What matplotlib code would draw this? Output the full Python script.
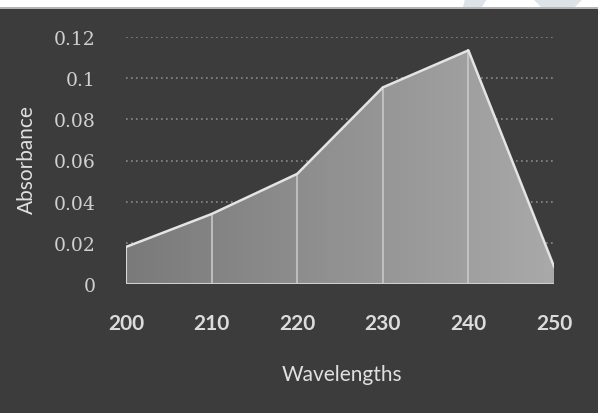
import matplotlib
matplotlib.use("Agg")
import matplotlib.pyplot as plt
import numpy as np
from matplotlib.patches import Rectangle, Polygon
from matplotlib.colors import LinearSegmentedColormap

wavelengths = [200, 210, 220, 230, 240, 250]
absorbance = [0.018, 0.034, 0.0535, 0.0955, 0.1135, 0.0085]
y_ticks = [0, 0.02, 0.04, 0.06, 0.08, 0.1, 0.12]
y_tick_labels = ["0", "0.02", "0.04", "0.06", "0.08", "0.1", "0.12"]

W, H = 598, 414
fig = plt.figure(figsize=(W/100, H/100), dpi=100)
fig.patch.set_facecolor("#3c3c3c")

# top white strip with watermark pieces
fig.patches.append(Rectangle((0, 1-8/H), 1, 8/H, transform=fig.transFigure,
                             facecolor="white", edgecolor="none", zorder=0))
fig.patches.append(Polygon([(465/W, 1), (487/W, 1), (482/W, 1-8/H), (463/W, 1-8/H)],
                           closed=True, transform=fig.transFigure,
                           facecolor="#dde3e8", edgecolor="none", zorder=1))
fig.patches.append(Polygon([(533/W, 1), (583/W, 1), (575/W, 1-8/H), (541/W, 1-8/H)],
                           closed=True, transform=fig.transFigure,
                           facecolor="#dde3e8", edgecolor="none", zorder=1))
fig.patches.append(Rectangle((0, 1-10/H), 1, 2/H, transform=fig.transFigure,
                             facecolor="#b4b4b4", edgecolor="none", zorder=2))

left, right = 126/W, 554/W
bottom, top = 1-285/H, 1-38/H
ax = fig.add_axes([left, bottom, right-left, top-bottom])
ax.set_facecolor("none")
ax.set_xlim(200, 250)
ax.set_ylim(0, 0.12)

x = np.array(wavelengths, dtype=float)
y = np.array(absorbance)

# gridlines
for t in y_ticks[1:]:
    ax.axhline(t, color="#8a8a8a", lw=1.2, ls=(0, (1, 2)), zorder=1)

# gradient fill clipped to area
cmap = LinearSegmentedColormap.from_list("g", ["#7a7a7a", "#a9a9a9"])
grad = np.linspace(0, 1, 256).reshape(1, -1)
im = ax.imshow(grad, cmap=cmap, extent=[200, 250, 0, 0.12], aspect="auto",
               origin="lower", zorder=2)
clip = Polygon(np.column_stack([np.r_[x, x[::-1]], np.r_[y, np.zeros_like(y)]]),
               closed=True, transform=ax.transData, facecolor="none", edgecolor="none")
ax.add_patch(clip)
im.set_clip_path(clip)

# drop lines
for xi, yi in zip(x[1:-1], y[1:-1]):
    ax.plot([xi, xi], [0, yi], color="#c8c8c8", lw=1.2, zorder=3)
ax.plot([200, 200], [0, y[0]], color="#d8d8d8", lw=1.5, zorder=3)
ax.plot([250, 250], [0, y[-1]], color="#a9a9a9", lw=1.0, zorder=3)
ax.plot(x, y, color="#e4e4e4", lw=1.8, zorder=4, solid_joinstyle="round")
ax.plot([200, 250], [0, 0], color="#cfcfcf", lw=1.5, zorder=4)

for s in ax.spines.values():
    s.set_visible(False)
ax.tick_params(length=0)
ax.set_yticks(y_ticks)
ax.set_yticklabels(y_tick_labels, fontfamily="DejaVu Serif", fontsize=13.5,
                   color="#d0d0d0")
ax.tick_params(axis="y", pad=22)
ax.set_xticks(wavelengths)
ax.set_xticklabels([str(v) for v in wavelengths], fontfamily="Lato",
                   fontweight="bold", fontsize=15, color="#dcdcdc")
ax.tick_params(axis="x", pad=21)

fig.text(27/W, 1-160/H, "Absorbance", rotation=90, ha="center", va="center",
         fontfamily="Lato", fontsize=15, color="#e0e0e0")
fig.text(342/W, 1-375/H, "Wavelengths", ha="center", va="center",
         fontfamily="Lato", fontsize=15, color="#e0e0e0")

fig.savefig("out.png", dpi=100, facecolor=fig.get_facecolor())
